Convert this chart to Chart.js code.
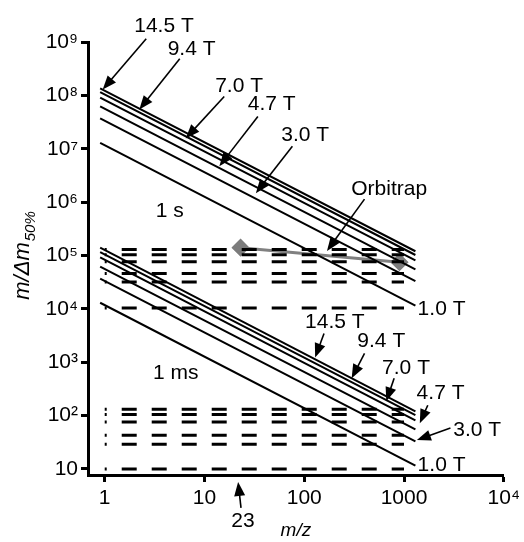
<!DOCTYPE html>
<html>
<head>
<meta charset="utf-8">
<script src="https://cdn.jsdelivr.net/npm/chart.js@4.4.1/dist/chart.umd.min.js"></script>
<style>
  html, body { margin: 0; padding: 0; background: #fff; }
  #wrap { width: 524px; height: 542px; }
</style>
</head>
<body>
<div id="wrap"><canvas id="chart"></canvas></div>
<script>
// FT-ICR resolving power vs m/z
const fieldLabels = ['14.5 T', '9.4 T', '7.0 T', '4.7 T', '3.0 T', '1.0 T'];
const lineMz = [0.9, 1300];
const rp1sStart = [1.35e8, 1.15e8, 9.1e7, 6.2e7, 3.7e7, 1.29e7];
const rp1sEnd = [1.2e5, 1.02e5, 8.1e4, 5.5e4, 3.3e4, 1.15e4];
const rp1msStart = [1.4e5, 1.15e5, 9.2e4, 6.2e4, 3.7e4, 1.3e4];
const rp1msEnd = [120, 102, 81, 55, 33, 11.5];
// horizontal dashed levels
const dashMz = [1, 1000];
const dash1s = [1.29e5, 1.03e5, 7.6e4, 4.6e4, 3.2e4, 1.04e4];
const dash1ms = [132, 105, 76, 43, 29, 10];
// Orbitrap
const orbitrapMz = [23, 900];
const orbitrapRP = [1.4e5, 7.5e4];
// axis ticks
const xTicks = [1, 10, 100, 1000, 10000];
const xTickLabels = ['1', '10', '100', '1000', '10\u2074'];
const yTicks = [10, 1e2, 1e3, 1e4, 1e5, 1e6, 1e7, 1e8, 1e9];
const yTickLabels = ['10', '10\u00B2', '10\u00B3', '10\u2074', '10\u2075', '10\u2076', '10\u2077', '10\u2078', '10\u2079'];

// text labels with arrows, positions in log10 units [x, y]
const notes = [
  { text: '14.5 T', at: [0.594, 9.30], from: [0.416, 9.06], to: [-0.02, 8.108] },
  { text: '9.4 T', at: [0.871, 8.873], from: [0.752, 8.687], to: [0.347, 7.735] },
  { text: '7.0 T', at: [1.347, 8.164], from: [1.198, 7.978], to: [0.812, 7.194] },
  { text: '4.7 T', at: [1.673, 7.828], from: [1.535, 7.604], to: [1.149, 6.672] },
  { text: '3.0 T', at: [2.010, 7.250], from: [1.881, 7.045], to: [1.515, 6.168] },
  { text: '1 s', at: [0.653, 5.832] },
  { text: 'Orbitrap', at: [2.851, 6.243], from: [2.604, 6.056], to: [2.228, 5.086] },
  { text: '1.0 T', at: [3.376, 3.985] },
  { text: '14.5 T', at: [2.307, 3.743], from: [2.198, 3.537], to: [2.109, 3.090] },
  { text: '9.4 T', at: [2.772, 3.388], from: [2.604, 3.164], to: [2.475, 2.698] },
  { text: '7.0 T', at: [3.020, 2.884], from: [2.901, 2.698], to: [2.822, 2.269] },
  { text: '4.7 T', at: [3.366, 2.418], from: [3.238, 2.194], to: [3.158, 1.858] },
  { text: '3.0 T', at: [3.733, 1.728], from: [3.465, 1.765], to: [3.129, 1.541] },
  { text: '1.0 T', at: [3.376, 1.075] },
  { text: '1 ms', at: [0.713, 2.791] },
  { text: '23', at: [1.386, 0.030], from: [1.366, 0.272], to: [1.337, 0.757] }
];

const FONT = '"Liberation Sans", Arial, Helvetica, sans-serif';

const datasets = [];
for (let i = 0; i < fieldLabels.length; i++) {
  datasets.push({
    label: '1 s ' + fieldLabels[i],
    data: [{ x: lineMz[0], y: rp1sStart[i] }, { x: lineMz[1], y: rp1sEnd[i] }],
    borderColor: '#000', borderWidth: 2, pointRadius: 0
  });
  datasets.push({
    label: '1 ms ' + fieldLabels[i],
    data: [{ x: lineMz[0], y: rp1msStart[i] }, { x: lineMz[1], y: rp1msEnd[i] }],
    borderColor: '#000', borderWidth: 2, pointRadius: 0
  });
  datasets.push({
    label: 'dash 1 s ' + fieldLabels[i],
    data: [{ x: dashMz[0], y: dash1s[i] }, { x: dashMz[1], y: dash1s[i] }],
    borderColor: '#000', borderWidth: 3, pointRadius: 0,
    borderDash: [15, 15], borderDashOffset: 13
  });
  datasets.push({
    label: 'dash 1 ms ' + fieldLabels[i],
    data: [{ x: dashMz[0], y: dash1ms[i] }, { x: dashMz[1], y: dash1ms[i] }],
    borderColor: '#000', borderWidth: 3, pointRadius: 0,
    borderDash: [15, 15], borderDashOffset: 13
  });
}
datasets.push({
  label: 'Orbitrap',
  data: orbitrapMz.map((m, i) => ({ x: m, y: orbitrapRP[i] })),
  borderColor: '#808080', borderWidth: 3,
  pointStyle: 'rectRot', pointRadius: 7,
  pointBackgroundColor: '#7c7c7c', pointBorderColor: '#7c7c7c'
});

function arrow(ctx, x1, y1, x2, y2) {
  const a = Math.atan2(y2 - y1, x2 - x1);
  const len = 14, w = 5.5;
  ctx.beginPath();
  ctx.moveTo(x1, y1);
  ctx.lineTo(x2 - Math.cos(a) * len * 0.8, y2 - Math.sin(a) * len * 0.8);
  ctx.stroke();
  ctx.beginPath();
  ctx.moveTo(x2, y2);
  ctx.lineTo(x2 - Math.cos(a) * len - Math.sin(a) * w, y2 - Math.sin(a) * len + Math.cos(a) * w);
  ctx.lineTo(x2 - Math.cos(a) * len + Math.sin(a) * w, y2 - Math.sin(a) * len - Math.cos(a) * w);
  ctx.closePath();
  ctx.fill();
}

const notesPlugin = {
  id: 'notes',
  afterDraw(chart) {
    const ctx = chart.ctx;
    const xs = chart.scales.x, ys = chart.scales.y;
    const px = v => xs.getPixelForValue(Math.pow(10, v));
    const py = v => ys.getPixelForValue(Math.pow(10, v));
    ctx.save();
    ctx.fillStyle = '#000';
    ctx.strokeStyle = '#000';
    ctx.lineWidth = 1.6;
    ctx.font = '21px ' + FONT;
    ctx.textAlign = 'center';
    ctx.textBaseline = 'middle';
    notes.forEach(n => {
      ctx.fillText(n.text, px(n.at[0]), py(n.at[1]));
      if (n.from) arrow(ctx, px(n.from[0]), py(n.from[1]), px(n.to[0]), py(n.to[1]));
    });
    // y axis title m/Δm50%
    ctx.translate(22, 256);
    ctx.rotate(-Math.PI / 2);
    ctx.textAlign = 'left';
    ctx.textBaseline = 'alphabetic';
    ctx.font = 'italic 22px ' + FONT;
    const main = 'm/\u0394m';
    const sub = '50%';
    const w1 = ctx.measureText(main).width;
    ctx.font = 'italic 15px ' + FONT;
    const w2 = ctx.measureText(sub).width;
    const x0 = -(w1 + w2) / 2;
    ctx.font = 'italic 22px ' + FONT;
    ctx.fillText(main, x0, 7);
    ctx.font = 'italic 15px ' + FONT;
    ctx.fillText(sub, x0 + w1 + 1, 13);
    ctx.restore();
  }
};

new Chart(document.getElementById('chart'), {
  type: 'line',
  data: { datasets: datasets },
  plugins: [notesPlugin],
  options: {
    responsive: true,
    maintainAspectRatio: false,
    animation: false,
    layout: { padding: { left: 0, right: 15, top: 42, bottom: 0 } },
    plugins: { legend: { display: false }, tooltip: { enabled: false } },
    scales: {
      x: {
        type: 'logarithmic',
        min: 0.68, max: 10000,
        afterBuildTicks: axis => { axis.ticks = xTicks.map(v => ({ value: v })); },
        afterFit: scale => { scale.height = 67; },
        ticks: {
          color: '#000', font: { size: 21, family: FONT }, padding: 4, maxRotation: 0,
          callback: v => xTickLabels[xTicks.indexOf(v)]
        },
        grid: { drawOnChartArea: false, drawTicks: true, tickLength: 7, tickWidth: 3, tickColor: '#000' },
        border: { display: true, color: '#000', width: 3 },
        title: { display: true, text: 'm/z', color: '#000', padding: { top: 0, bottom: 0 },
          font: { size: 19, style: 'italic', family: FONT } }
      },
      y: {
        type: 'logarithmic',
        min: 7.7, max: 1e9,
        afterBuildTicks: axis => { axis.ticks = yTicks.map(v => ({ value: v })); },
        afterFit: scale => { scale.width = 88; },
        ticks: {
          color: '#000', font: { size: 21, family: FONT }, padding: 3,
          callback: v => yTickLabels[yTicks.indexOf(v)]
        },
        grid: { drawOnChartArea: false, drawTicks: true, tickLength: 7, tickWidth: 3, tickColor: '#000' },
        border: { display: true, color: '#000', width: 3 }
      }
    }
  }
});
</script>
</body>
</html>
